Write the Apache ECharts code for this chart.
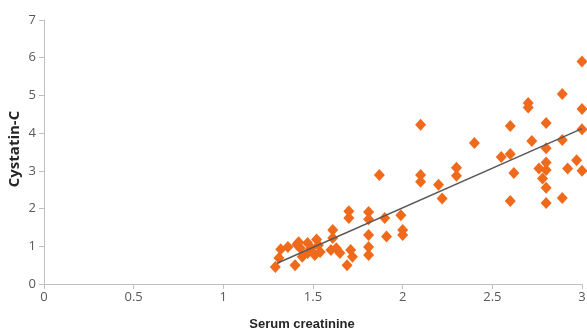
<!DOCTYPE html>
<html>
<head>
<meta charset="utf-8">
<script src="https://cdn.jsdelivr.net/npm/echarts@6/dist/echarts.min.js"></script>
<style>
  html, body { margin: 0; padding: 0; background: #fff; }
  #chart { width: 587px; height: 332px; }
</style>
</head>
<body>
<div id="chart"></div>
<script>
// serum creatinine vs cystatin-C
const points = [
  [1.29, 0.45], [1.31, 0.69], [1.32, 0.92], [1.36, 0.98], [1.40, 0.50], [1.41, 1.05],
  [1.42, 1.11], [1.43, 0.95], [1.44, 0.72], [1.47, 1.09], [1.47, 0.82], [1.49, 0.95],
  [1.51, 0.77], [1.52, 1.18], [1.53, 1.03], [1.54, 0.85], [1.60, 0.90], [1.61, 1.43],
  [1.61, 1.22], [1.63, 0.95], [1.65, 0.82], [1.69, 0.50], [1.71, 0.90], [1.72, 0.72],
  [1.70, 1.93], [1.70, 1.75], [1.81, 1.91], [1.81, 1.72], [1.81, 1.30], [1.81, 0.98],
  [1.81, 0.77], [1.87, 2.89], [1.90, 1.75], [1.91, 1.26], [1.99, 1.82], [2.00, 1.43],
  [2.00, 1.30], [2.10, 4.22], [2.10, 2.89], [2.10, 2.71], [2.20, 2.63], [2.22, 2.27],
  [2.30, 3.08], [2.30, 2.87], [2.40, 3.74], [2.55, 3.37], [2.60, 3.45], [2.60, 4.19],
  [2.62, 2.94], [2.60, 2.20], [2.70, 4.80], [2.70, 4.68], [2.72, 3.79], [2.76, 3.06],
  [2.78, 2.80], [2.80, 4.27], [2.80, 3.60], [2.80, 3.22], [2.80, 3.02], [2.80, 2.55],
  [2.80, 2.15], [2.89, 5.04], [2.89, 3.82], [2.89, 2.28], [2.92, 3.06], [2.97, 3.28],
  [3.00, 5.90], [3.00, 4.64], [3.00, 4.10], [3.00, 3.00]
];

// end points of the fitted line
const trendX = [1.3, 3.0];
const trendY = [0.55, 4.12];

const xTicks = [0, 0.5, 1, 1.5, 2, 2.5, 3];
const yTicks = [0, 1, 2, 3, 4, 5, 6, 7];

const chart = echarts.init(document.getElementById('chart'));

const labelFont = 'Open Sans, Liberation Sans, sans-serif';

chart.setOption({
  animation: false,
  grid: {
    left: 44,
    right: 5,
    top: 20,
    bottom: 48,
    outerBoundsMode: 'none',
  },
  xAxis: {
    type: 'value',
    min: xTicks[0],
    max: xTicks[xTicks.length - 1],
    interval: 0.5,
    name: 'Serum creatinine',
    nameLocation: 'middle',
    nameGap: 34,
    nameTextStyle: {
      fontFamily: 'Liberation Sans, sans-serif', fontWeight: 'bold', fontSize: 13,
      color: '#262626', padding: [0, 22, 0, 0],
    },
    splitLine: { show: false },
    axisLine: { lineStyle: { color: '#bfbfbf', width: 1 } },
    axisTick: { lineStyle: { color: '#bfbfbf' }, length: 5 },
    axisLabel: { color: '#595959', fontSize: 13, fontFamily: labelFont, margin: 7 },
  },
  yAxis: {
    type: 'value',
    min: yTicks[0],
    max: yTicks[yTicks.length - 1],
    interval: 1,
    name: 'Cystatin-C',
    nameLocation: 'middle',
    nameGap: 22,
    nameMoveOverlap: false,
    nameTextStyle: {
      fontFamily: labelFont, fontWeight: 'bold', fontSize: 15, color: '#262626',
      padding: [0, 0, 0, 6],
    },
    splitLine: { show: false },
    axisLine: { show: true, lineStyle: { color: '#bfbfbf', width: 1 } },
    axisTick: { show: true, lineStyle: { color: '#bfbfbf' }, length: 5 },
    axisLabel: { color: '#595959', fontSize: 13, fontFamily: labelFont, margin: 8 },
  },
  series: [{
    type: 'scatter',
    data: points,
    symbol: 'diamond',
    symbolSize: [11, 12],
    itemStyle: { color: '#f06a1c', opacity: 1 },
    z: 2,
  }, {
    type: 'line',
    data: trendX.map((x, i) => [x, trendY[i]]),
    symbol: 'none',
    lineStyle: { color: '#595959', width: 1.5 },
    z: 3,
  }],
});
</script>
</body>
</html>
